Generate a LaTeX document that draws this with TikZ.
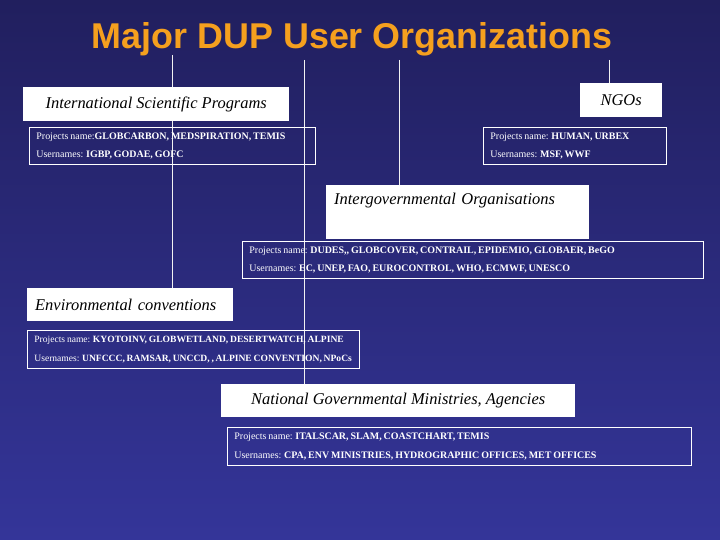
\documentclass[tikz,border=0pt]{standalone}
\usepackage{fontspec}
\setmainfont{Liberation Serif}
\newfontfamily\titlesans{Liberation Sans}
\newfontfamily\infoserif[WordSpace=0.75]{Liberation Serif}
\usepackage{tikz}
\usetikzlibrary{positioning,calc}
\pgfdeclarelayer{backdrop}
\pgfdeclarelayer{links}
\pgfsetlayers{backdrop,links,main}
\definecolor{dupNavyTop}{RGB}{33,31,94}
\definecolor{dupNavyBot}{RGB}{52,53,153}
\definecolor{dupOrange}{RGB}{245,160,30}
\newcommand{\headfont}{\fontsize{16.5}{19}\selectfont\itshape}
\newcommand{\infofont}{\infoserif\fontsize{10}{18.5}\selectfont}
\newcommand{\pname}[1]{\makebox[\linewidth][l]{Projects name:\textbf{#1}}}
\newcommand{\uname}[1]{\makebox[\linewidth][l]{Usernames:\textbf{#1}}}
\tikzset{
    orgHead/.style={
        fill=white,
        anchor=north west,
        inner sep=0pt,
        minimum height=34bp,
        font=\headfont,
        text=black
    },
    orgInfo/.style={
        draw=white,
        line width=0.8bp,
        anchor=north west,
        inner xsep=7bp,
        inner ysep=0pt,
        minimum height=37bp,
        text width=#1,
        align=flush left,
        font=\infofont,
        text=white
    },
    orgLink/.style={draw=white!90!gray, line width=0.8bp}
}

\begin{document}
\begin{tikzpicture}[x=1bp, y=-1bp]
% background
\begin{pgfonlayer}{backdrop}
\shade[top color=dupNavyTop, bottom color=dupNavyBot] (0,0) rectangle (720,540);
\end{pgfonlayer}
\useasboundingbox (0,0) rectangle (720,540);

\node[anchor=base, text=dupOrange, font=\titlesans\bfseries\fontsize{36}{38}\selectfont] (title) at (352,49) {Major DUP User Organizations};

% link tops
\coordinate (linkIsp) at (172,55);
\coordinate (linkNat) at (304,60);
\coordinate (linkIgo) at (399,60);
\coordinate (linkNgo) at (609,60);

% headings
\node[orgHead, minimum width=266bp] (isp) at (23,87) {International Scientific Programs};
\node[orgHead, minimum width=82bp] (ngo) at (580,83) {NGOs};
\node[orgHead, inner xsep=8bp, text width=247bp, align=left, text depth=26bp, inner ysep=8bp] (igo) at (326,185) {Intergovernmental Organisations};
\node[orgHead, inner xsep=8bp, text width=190bp, align=left, minimum height=33bp] (env) at (27,288) {Environmental conventions};
\node[orgHead, minimum width=354bp, minimum height=33bp] (nat) at (221,384) {National Governmental Ministries, Agencies};

% links
\begin{pgfonlayer}{links}
\draw[orgLink] (linkIsp) -- (linkIsp |- env.north);
\draw[orgLink] (linkNat) -- (linkNat |- nat.north);
\draw[orgLink] (linkIgo) -- (linkIgo |- igo.north);
\draw[orgLink] (linkNgo) -- (linkNgo |- ngo.north);
\end{pgfonlayer}

% details
\node[orgInfo=272bp] (ispInfo) at (29,127) {\pname{GLOBCARBON, MEDSPIRATION, TEMIS}\\\uname{ IGBP, GODAE, GOFC}};
\node[orgInfo=169bp] (ngoInfo) at (483,127) {\pname{ HUMAN, URBEX}\\\uname{ MSF, WWF}};
\node[orgInfo=447bp] (igoInfo) at (242,241) {\pname{ DUDES,, GLOBCOVER, CONTRAIL, EPIDEMIO, GLOBAER, BeGO}\\\uname{ EC, UNEP, FAO, EUROCONTROL, WHO, ECMWF, UNESCO}};
\node[orgInfo=318bp, minimum height=38bp, font={\infofont\fontsize{9.6}{18.5}\selectfont}] (envInfo) at (27,330) {\pname{ KYOTOINV, GLOBWETLAND, DESERTWATCH, ALPINE}\\\uname{ UNFCCC, RAMSAR, UNCCD, , ALPINE CONVENTION, NPoCs}};
\node[orgInfo=450bp, minimum height=38bp] (natInfo) at (227,427) {\pname{ ITALSCAR, SLAM, COASTCHART, TEMIS}\\\uname{ CPA, ENV MINISTRIES, HYDROGRAPHIC OFFICES, MET OFFICES}};
\end{tikzpicture}
\end{document}
